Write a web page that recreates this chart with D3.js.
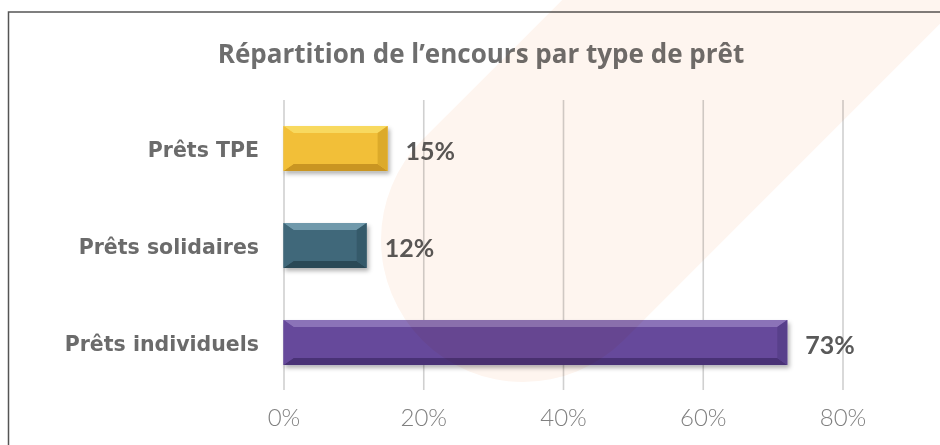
<!DOCTYPE html>
<html>
<head>
<meta charset="utf-8">
<script src="https://cdn.jsdelivr.net/npm/d3@7"></script>
<style>
  html, body { margin: 0; padding: 0; background: #fff; }
  svg { display: block; }
</style>
</head>
<body>
<svg id="chart" width="940" height="445"></svg>
<script>
// Répartition de l'encours par type de prêt — barres horizontales biseautées

const categories = ["Prêts TPE", "Prêts solidaires", "Prêts individuels"];
const values = [0.149, 0.119, 0.721];
const valueLabels = ["15%", "12%", "73%"];
const tickValues = [0, 0.2, 0.4, 0.6, 0.8];

// couleurs : face, biseau haut, biseau bas, côté droit
const barColors = [
  { face: "#f2bf38", top: "#f8d95e", bottom: "#c99520", side: "#dcaa2c" },
  { face: "#41687a", top: "#6f99ab", bottom: "#2b4957", side: "#365a6a" },
  { face: "#664a9b", top: "#8b73b8", bottom: "#4a3276", side: "#583f8b" },
];

const svg = d3.select("#chart");

const x = d3.scaleLinear().domain([0, 0.8]).range([283.5, 842.5]);
const y = d3.scaleBand().domain(categories).range([100, 391])
  .paddingInner(0.536).paddingOuter(0.268);

// ombre portée des barres
const defs = svg.append("defs");
defs.append("filter").attr("id", "shadow")
  .attr("x", "-10%").attr("y", "-20%").attr("width", "130%").attr("height", "160%")
  .append("feDropShadow")
  .attr("dx", 2).attr("dy", 3).attr("stdDeviation", 2)
  .attr("flood-color", "#000").attr("flood-opacity", 0.3);

// cadre
svg.append("rect")
  .attr("x", 8.5).attr("y", 12).attr("width", 1000).attr("height", 1000)
  .attr("fill", "#fff").attr("stroke", "#555").attr("stroke-width", 1.5);

// titre
svg.append("text")
  .attr("x", 481).attr("y", 63)
  .attr("text-anchor", "middle")
  .style("font-family", "'Open Sans', sans-serif").style("font-weight", "bold")
  .style("font-size", "26px").style("fill", "#6e6e6e")
  .text("Répartition de l’encours par type de prêt");

// quadrillage vertical
svg.append("g")
  .attr("transform", `translate(0,${y.range()[1] - 1})`)
  .call(d3.axisBottom(x).tickValues(tickValues).tickSize(-290).tickFormat(""))
  .call((g) => g.select(".domain").remove())
  .call((g) => g.selectAll("line").attr("stroke", "#d0d0d0").attr("stroke-width", 1.6));

// étiquettes de l'axe X
svg.append("g")
  .attr("transform", "translate(0,406)")
  .call(d3.axisBottom(x).tickValues(tickValues).tickSize(0).tickFormat(d3.format(".0%")))
  .call((g) => g.select(".domain").remove())
  .call((g) => g.selectAll("text")
    .attr("dy", "0.71em")
    .style("font-family", "Lato, sans-serif").style("font-weight", "300")
    .style("font-size", "24px").style("fill", "#808080"));

// étiquettes des catégories
svg.append("g").selectAll("text")
  .data(categories)
  .join("text")
  .attr("x", 259)
  .attr("y", (d) => y(d) + y.bandwidth() / 2 + 8)
  .attr("text-anchor", "end")
  .style("font-family", "'DejaVu Sans', sans-serif").style("font-weight", "bold")
  .style("font-size", "20.5px").style("fill", "#6b6b6b")
  .text((d) => d);

// barres biseautées
const bars = svg.append("g");
categories.forEach((cat, i) => {
  const x0 = x(0), x1 = x(values[i]);
  const y0 = y(cat), y1 = y0 + y.bandwidth();
  const b = 7, s = 10;
  const c = barColors[i];
  const g = bars.append("g").attr("filter", "url(#shadow)");
  const poly = (pts, fill) => g.append("polygon")
    .attr("points", pts.map((p) => p.join(",")).join(" ")).attr("fill", fill);

  g.append("rect").attr("x", x0).attr("y", y0)
    .attr("width", x1 - x0).attr("height", y1 - y0).attr("fill", c.face);
  poly([[x0, y0], [x1, y0], [x1 - s, y0 + b], [x0 + s, y0 + b]], c.top);
  poly([[x0, y1], [x1, y1], [x1 - s, y1 - b], [x0 + s, y1 - b]], c.bottom);
  poly([[x1, y0], [x1, y1], [x1 - s, y1 - b], [x1 - s, y0 + b]], c.side);
  poly([[x0, y0], [x0, y1], [x0 + s, y1 - b], [x0 + s, y0 + b]], c.face);
});

// valeurs en bout de barre
svg.append("g").selectAll("text")
  .data(categories)
  .join("text")
  .attr("x", (d, i) => x(values[i]) + 18)
  .attr("y", (d) => y(d) + y.bandwidth() / 2 + 11)
  .style("font-family", "Lato, sans-serif").style("font-weight", "bold")
  .style("font-size", "25px").style("fill", "#595959")
  .text((d, i) => valueLabels[i]);

// filigrane orange en diagonale (bande à bout arrondi), par-dessus en multiplication
svg.append("line")
  .attr("x1", 523).attr("y1", 240).attr("x2", 1123).attr("y2", -360)
  .attr("stroke", "#fef5ef").attr("stroke-width", 284).attr("stroke-linecap", "round")
  .style("mix-blend-mode", "multiply").style("pointer-events", "none");
</script>
</body>
</html>
